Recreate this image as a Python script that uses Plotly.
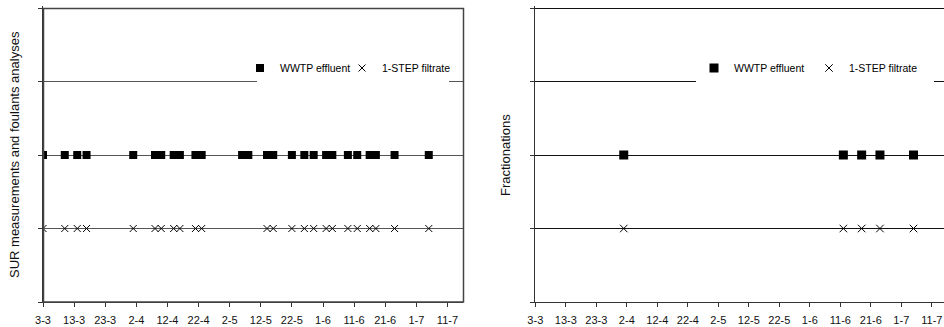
import plotly.graph_objects as go

# Sampling dates (day-month, 2009 season)
sur_effluent_dates = [
    "2009-03-03", "2009-03-10", "2009-03-14", "2009-03-17", "2009-04-01",
    "2009-04-08", "2009-04-10", "2009-04-14", "2009-04-16", "2009-04-21",
    "2009-04-23", "2009-05-06", "2009-05-08", "2009-05-14", "2009-05-16",
    "2009-05-22", "2009-05-26", "2009-05-29", "2009-06-02", "2009-06-04",
    "2009-06-09", "2009-06-12", "2009-06-16", "2009-06-18", "2009-06-24",
    "2009-07-05",
]
sur_filtrate_dates = [
    "2009-03-03", "2009-03-10", "2009-03-14", "2009-03-17", "2009-04-01",
    "2009-04-08", "2009-04-10", "2009-04-14", "2009-04-16", "2009-04-21",
    "2009-04-23", "2009-05-14", "2009-05-16", "2009-05-22", "2009-05-26",
    "2009-05-29", "2009-06-02", "2009-06-04", "2009-06-09", "2009-06-12",
    "2009-06-16", "2009-06-18", "2009-06-24", "2009-07-05",
]
frac_effluent_dates = ["2009-04-01", "2009-06-12", "2009-06-18", "2009-06-24", "2009-07-05"]
frac_filtrate_dates = ["2009-04-01", "2009-06-12", "2009-06-18", "2009-06-24", "2009-07-05"]

# Row levels of the two sample types
effluent_level = 2
filtrate_level = 1

series_names = ["WWTP effluent", "1-STEP filtrate"]
y_titles = ["SUR measurements and foulants analyses", "Fractionations"]

W, H = 944, 327
font_family = "Liberation Sans, Arial, sans-serif"


def px_x(p):
    return p / W


def px_y(p):
    return 1 - p / H


def square_style(size):
    return dict(symbol="square", size=size, color="black")


def cross_style(size):
    return dict(symbol="x-thin-open", size=size, color="black",
                line=dict(width=1, color="black"))


fig = go.Figure()

# Left panel: SUR measurements and foulant analyses
fig.add_trace(go.Scatter(
    x=sur_effluent_dates, y=[effluent_level] * len(sur_effluent_dates),
    mode="markers", name=series_names[0], xaxis="x", yaxis="y",
    marker=square_style(8), legend="legend",
))
fig.add_trace(go.Scatter(
    x=sur_filtrate_dates, y=[filtrate_level] * len(sur_filtrate_dates),
    mode="markers", name=series_names[1], xaxis="x", yaxis="y",
    marker=cross_style(7), legend="legend2",
))

# Right panel: fractionations
fig.add_trace(go.Scatter(
    x=frac_effluent_dates, y=[effluent_level] * len(frac_effluent_dates),
    mode="markers", name=series_names[0], xaxis="x2", yaxis="y2",
    marker=square_style(9), legend="legend3",
))
fig.add_trace(go.Scatter(
    x=frac_filtrate_dates, y=[filtrate_level] * len(frac_filtrate_dates),
    mode="markers", name=series_names[1], xaxis="x2", yaxis="y2",
    marker=cross_style(7.5), legend="legend4",
))

# Level axis 0..4; the top sits a little above 4 so the gridline at 4 is drawn
y_top = 4.03
plot_top_px, plot_bottom_px = 8, 302
px_per_level = (plot_bottom_px - plot_top_px) / 4
y_domain = [px_y(plot_bottom_px), px_y(plot_top_px - (y_top - 4) * px_per_level)]

date_axis = dict(
    type="date", tickformat="%-d-%-m", dtick=10 * 86400000, tick0="2009-03-03",
    ticks="outside", ticklen=4, tickcolor="#333", showline=True, linecolor="#333",
    linewidth=1, showgrid=False, zeroline=False, automargin=False,
    ticklabelstandoff=4,
    tickfont=dict(size=11, color="#111", family=font_family),
)
level_axis = dict(
    range=[0, y_top], dtick=1, tick0=0, showticklabels=False, ticks="outside",
    ticklen=4, tickcolor="#333", showline=True, linecolor="#333", linewidth=1,
    showgrid=True, gridwidth=1, zeroline=False, domain=y_domain,
    fixedrange=True, automargin=False,
)


def legend_box(x_px):
    return dict(orientation="h", x=px_x(x_px), y=px_y(68), xanchor="left",
                yanchor="middle", bgcolor="rgba(0,0,0,0)", borderwidth=0,
                indentation=-10,
                font=dict(size=10.5, family=font_family, color="black"))


def blank(x0, x1, y0, y1):
    return dict(type="rect", xref="paper", yref="paper",
                x0=px_x(x0), x1=px_x(x1), y0=px_y(y1), y1=px_y(y0),
                fillcolor="white", line=dict(width=0), layer="above")


shapes = [
    # frame of the left panel's plot area
    dict(type="rect", xref="paper", yref="paper",
         x0=px_x(43.5), x1=px_x(463.5), y0=px_y(302), y1=px_y(8.5),
         line=dict(color="#444", width=1.5), fillcolor="rgba(0,0,0,0)", layer="above"),
    # legend backgrounds interrupting the upper gridline
    blank(257, 449, 58, 88),
    blank(696, 934, 58, 88),
]

fig.update_layout(
    template="none", showlegend=True,
    width=W, height=H, margin=dict(l=0, r=0, t=0, b=0, autoexpand=False),
    paper_bgcolor="white", plot_bgcolor="white",
    font=dict(family=font_family, color="black"),
    xaxis=dict(date_axis, domain=[px_x(43), px_x(463)],
               range=["2009-03-03", "2009-07-16"], anchor="y"),
    yaxis=dict(level_axis, anchor="x", gridcolor="#555"),
    xaxis2=dict(date_axis, domain=[px_x(535.3), 1.0],
                range=["2009-03-03", "2009-07-15"], anchor="y2"),
    yaxis2=dict(level_axis, anchor="x2", gridcolor="#111"),
    legend=legend_box(250),
    legend2=legend_box(352),
    legend3=legend_box(704),
    legend4=legend_box(819),
    shapes=shapes,
    annotations=[
        dict(text=y_titles[0], x=px_x(14), y=px_y(155), xref="paper", yref="paper",
             textangle=-90, showarrow=False, xanchor="center", yanchor="middle",
             font=dict(size=13, family=font_family, color="#111")),
        dict(text=y_titles[1], x=px_x(505), y=px_y(155), xref="paper", yref="paper",
             textangle=-90, showarrow=False, xanchor="center", yanchor="middle",
             font=dict(size=13, family=font_family, color="#111")),
    ],
)

fig.write_html("out.html")
